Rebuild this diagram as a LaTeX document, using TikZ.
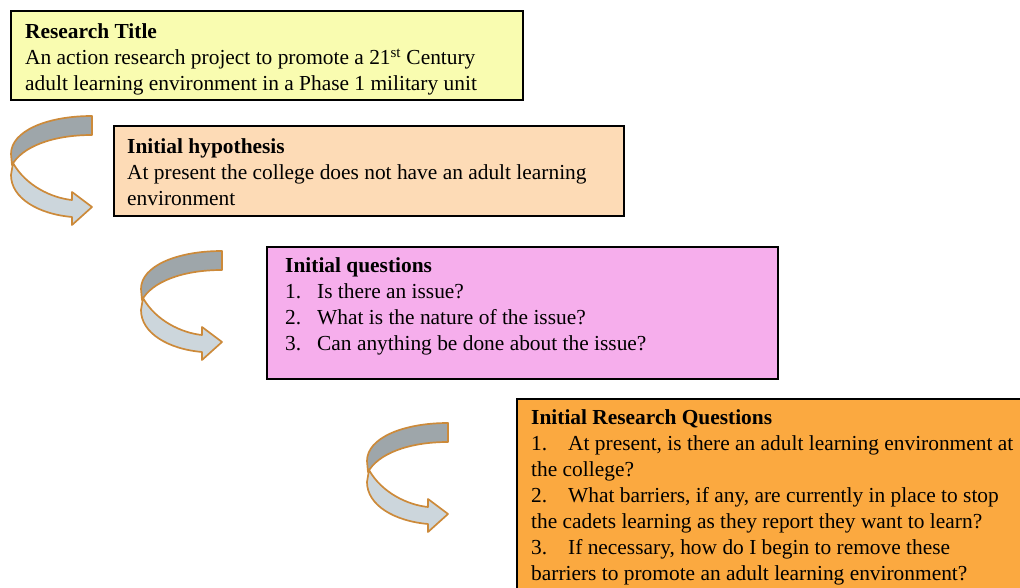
\documentclass[tikz,border=0pt]{standalone}
\usepackage{fontspec}
\setmainfont{Liberation Serif}

\definecolor{titlefill}{RGB}{249,252,176}
\definecolor{hypfill}{RGB}{253,219,182}
\definecolor{qfill}{RGB}{246,174,236}
\definecolor{rqfill}{RGB}{251,169,64}
\definecolor{bandedge}{RGB}{204,138,58}
\definecolor{banddark}{RGB}{158,166,170}
\definecolor{bandlight}{RGB}{204,214,220}

\tikzset{
  panel/.style={draw=black, line width=1.6pt, rectangle, inner sep=0pt, anchor=north west},
  paneltext/.style={anchor=north west, inner sep=0pt, align=left,
                    font=\fontsize{21.4}{26}\selectfont},
  bandline/.style={draw=bandedge, line width=1.7pt, line join=round},
  % curved ribbon arrow, origin at the top right corner of its tail
  turnarrow/.pic={
    \path[bandline, fill=bandlight]
      (-79,47) .. controls (-66,70) and (-40,82) .. (-20,84) -- (-20,76) -- (0,91)
      -- (-20,109) -- (-20,101) .. controls (-54,98) and (-81,82) .. (-81,59) -- cycle;
    \path[bandline, fill=banddark]
      (0,0) .. controls (-45,0) and (-81,15) .. (-81,38) -- (-80,49)
      .. controls (-70,31) and (-40,19) .. (0,19) -- cycle;
  }
}

\newcommand{\itm}[2][32pt]{\makebox[#1][l]{#2}}

\begin{document}
\begin{tikzpicture}[x=1pt,y=-1pt]
  \clip (0,0) rectangle (1020,588);
  \useasboundingbox (0,0) rectangle (1020,588);

  % panels
  \node[panel, fill=titlefill, minimum width=512pt, minimum height=89pt] (title) at (10,10) {};
  \node[panel, fill=hypfill, minimum width=510pt, minimum height=90pt] (hyp) at (113,125) {};
  \node[panel, fill=qfill, minimum width=511pt, minimum height=132pt] (quest) at (266,246) {};
  \node[panel, fill=rqfill, minimum width=540pt, minimum height=220pt] (rq) at (516,398) {};

  % panel texts
  \node[paneltext] (titletext) at (25,23.5) {\textbf{Research Title}\\
    An action research project to promote a 21\textsuperscript{st} Century\\
    adult learning environment in a Phase 1 military unit};
  \node[paneltext] (hyptext) at (127,138) {\textbf{Initial hypothesis}\\
    At present the college does not have an adult learning\\
    environment};
  \node[paneltext] (questtext) at (285,257) {\textbf{Initial questions}\\
    \itm{1.}Is there an issue?\\
    \itm{2.}What is the nature of the issue?\\
    \itm{3.}Can anything be done about the issue?};
  \node[paneltext] (rqtext) at (531,409.5) {\textbf{Initial Research Questions}\\
    \itm[37pt]{1.}At present, is there an adult learning environment at\\
    the college?\\
    \itm[37pt]{2.}What barriers, if any, are currently in place to stop\\
    the cadets learning as they report they want to learn?\\
    \itm[37pt]{3.}If necessary, how do I begin to remove these\\
    barriers to promote an adult learning environment?};

  % curved arrows between panels
  \pic at (92,116) {turnarrow};
  \pic at (222,251) {turnarrow};
  \pic at (448,423) {turnarrow};
\end{tikzpicture}
\end{document}
